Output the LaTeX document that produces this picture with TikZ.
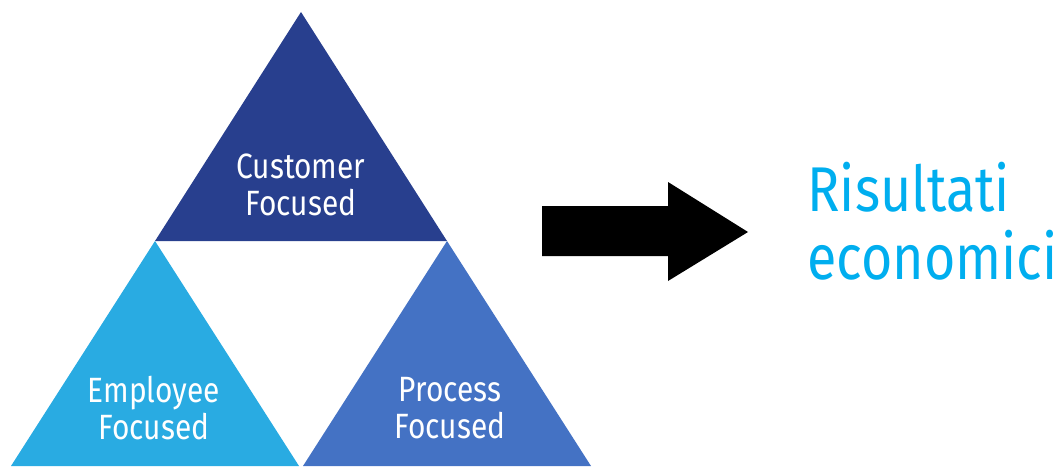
\documentclass[tikz,border=0pt]{standalone}
\usepackage{fontspec}
\setmainfont[FakeStretch=0.85]{Fira Sans}
\definecolor{custblue}{HTML}{283F8E}
\definecolor{empblue}{HTML}{29ABE2}
\definecolor{procblue}{HTML}{4472C4}
\definecolor{resblue}{HTML}{00AEEF}

\begin{document}
\begin{tikzpicture}[x=0.02cm,y=-0.02cm,
  tritext/.style={text=white,align=center,font=\fontsize{20}{21.5}\selectfont},
  restext/.style={text=resblue,anchor=base west,inner sep=0pt,font=\fontsize{36}{40}\selectfont}]
  \useasboundingbox (0,0) rectangle (1060,466);
  % the three triangles
  \fill[custblue] (301,12) -- (447,241) -- (155,241) -- cycle;
  \fill[empblue] (155,241) -- (299,466) -- (11,466) -- cycle;
  \fill[procblue] (447,241) -- (591,466) -- (303,466) -- cycle;
  \node[tritext] (cust) at (301,185) {Customer\\Focused};
  \node[tritext] (emp) at (154,408) {Employee\\Focused};
  \node[tritext] (proc) at (450,408) {Process\\Focused};
  % big arrow
  \fill[black] (542,206) -- (668,206) -- (668,182) -- (748,232)
    -- (668,281) -- (668,256) -- (542,256) -- cycle;
  \node[restext] (res1) at (807,211) {Risultati};
  \node[restext] (res2) at (807,279) {economici};
\end{tikzpicture}
\end{document}
